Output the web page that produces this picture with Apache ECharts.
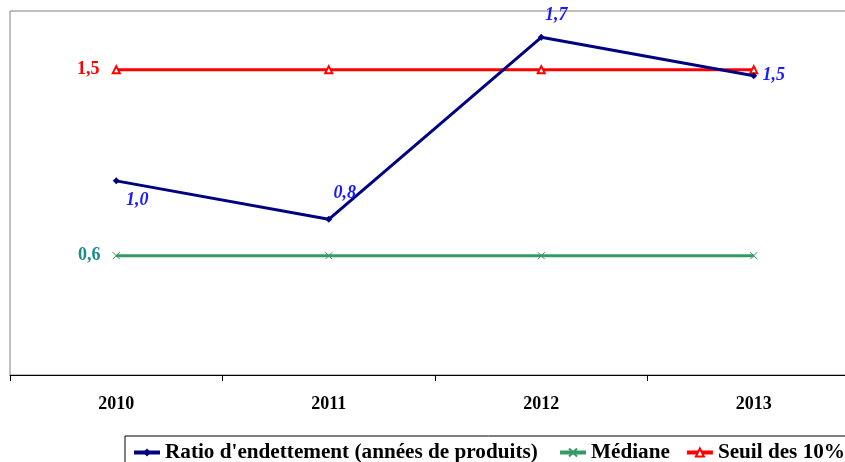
<!DOCTYPE html>
<html>
<head>
<meta charset="utf-8">
<script src="https://cdn.jsdelivr.net/npm/echarts@6/dist/echarts.min.js"></script>
<style>
    html, body { margin: 0; padding: 0; background: #fff; overflow: hidden; }
    /* plot area runs past the right edge of the window, as in the original */
    #chart { width: 860px; height: 462px; }
</style>
</head>
<body>
<div id="chart"></div>
<script>
const years = ["2010", "2011", "2012", "2013"];
const ratio = [0.96, 0.77, 1.67, 1.48];
const mediane = [0.59, 0.59, 0.59, 0.59];
const seuil = [1.51, 1.51, 1.51, 1.51];

const serif = "'Liberation Serif', 'Times New Roman', serif";
const fmt = (p) => p.value.toFixed(1).replace(".", ",");

// label offsets for each point of the ratio line
const ratioOffsets = [[21, 19], [16, -26], [15, -22], [20, 0]];

const chart = echarts.init(document.getElementById("chart"));

let options = {
    animation: false,
    grid: {
        show: true,
        left: 10,
        top: 11,
        right: 0,
        bottom: 87,
        borderColor: "#808080",
        borderWidth: 1,
    },
    legend: {
        left: 125,
        top: 436,
        width: 760,
        padding: [6, 7, 8, 7],
        itemGap: 15,
        itemWidth: 26,
        itemHeight: 10,
        borderColor: "#000",
        borderWidth: 1,
        lineStyle: { width: 4 },
        formatter: (name) => (name.startsWith("Ratio") ? name + " " : name),
        textStyle: {
            fontFamily: serif,
            fontWeight: "bold",
            fontSize: 21.2,
            color: "#000",
        },
        data: ["Ratio d'endettement (années de produits)", "Médiane", "Seuil des 10%"],
    },
    xAxis: {
        type: "category",
        data: years,
        boundaryGap: true,
        axisLine: { lineStyle: { color: "#000", width: 1 } },
        axisTick: { show: true, length: 6, lineStyle: { color: "#000" } },
        axisLabel: {
            margin: 20,
            fontFamily: serif,
            fontWeight: "bold",
            fontSize: 18,
            color: "#000",
        },
    },
    yAxis: {
        type: "value",
        min: 0,
        max: 1.8,
        show: false,
        splitLine: { show: false },
    },
    series: [
        {
            name: "Ratio d'endettement (années de produits)",
            type: "line",
            z: 4,
            data: ratio.map((v, i) => ({
                value: v,
                label: { offset: ratioOffsets[i] },
            })),
            symbol: "diamond",
            symbolSize: 7,
            lineStyle: { color: "#000080", width: 3 },
            itemStyle: { color: "#000080" },
            label: {
                show: true,
                position: "inside",
                formatter: fmt,
                fontFamily: serif,
                fontStyle: "italic",
                fontWeight: "bold",
                fontSize: 18,
                color: "#1a1aff",
            },
        },
        {
            name: "Médiane",
            type: "line",
            data: mediane.map((v, i) => ({
                value: v,
                label: { show: i === 0 },
            })),
            symbol: "path://M0,0L10,10M10,0L0,10",
            symbolSize: 7,
            lineStyle: { color: "#339966", width: 3 },
            itemStyle: { color: "#339966", borderColor: "#339966", borderWidth: 1 },
            label: {
                position: "inside",
                offset: [-27, 0],
                formatter: fmt,
                fontFamily: serif,
                fontWeight: "bold",
                fontSize: 18,
                color: "#1a8c8c",
            },
        },
        {
            name: "Seuil des 10%",
            type: "line",
            data: seuil.map((v, i) => ({
                value: v,
                label: { show: i === 0 },
            })),
            symbol: "emptyTriangle",
            symbolSize: 7,
            lineStyle: { color: "#ff0000", width: 3 },
            itemStyle: { color: "#ff0000", borderColor: "#ff0000", borderWidth: 1 },
            label: {
                position: "inside",
                offset: [-28, 0],
                formatter: fmt,
                fontFamily: serif,
                fontWeight: "bold",
                fontSize: 18,
                color: "#ff0000",
            },
        },
    ],
};

chart.setOption(options);
</script>
</body>
</html>
